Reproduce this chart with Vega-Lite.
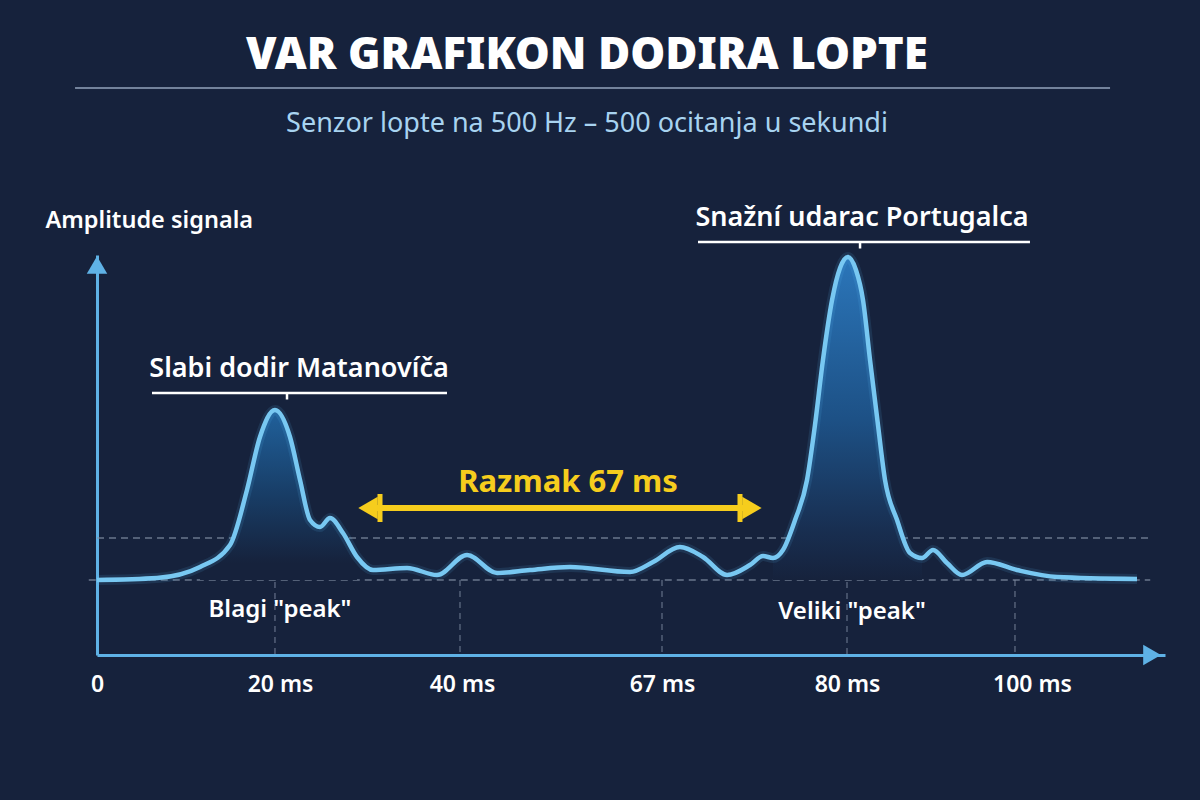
{
  "$schema": "https://vega.github.io/schema/vega-lite/v6.json",
  "autosize": {"type": "none"},
  "width": 1068,
  "height": 400,
  "padding": {"left": 97, "top": 255, "right": 35, "bottom": 145},
  "background": "#16223c",
  "config": {"view": {"stroke": null}},
  "title": {
    "text": "VAR GRAFIKON DODIRA LOPTE",
    "subtitle": "Senzor lopte na 500 Hz – 500 ocitanja u sekundi",
    "anchor": "middle",
    "dx": -44,
    "offset": -50,
    "font": "Noto Sans",
    "fontSize": 44,
    "fontWeight": 900,
    "color": "#ffffff",
    "subtitleFont": "Noto Sans",
    "subtitleFontSize": 27,
    "subtitleFontWeight": 400,
    "subtitleColor": "#a8d3f0",
    "subtitlePadding": 33
  },
  "resolve": {"scale": {"shape": "independent"}},
  "datasets": {
    "signal": [
      {"ms": 0, "amp": 0}, {"ms": 6.56, "amp": 0.4}, {"ms": 11.26, "amp": 2.6}, {"ms": 14.54, "amp": 7},
      {"ms": 16.39, "amp": 18}, {"ms": 17.81, "amp": 28.6}, {"ms": 19.45, "amp": 34}, {"ms": 21.1, "amp": 28.6},
      {"ms": 22.2, "amp": 20}, {"ms": 23.3, "amp": 12}, {"ms": 24.4, "amp": 10.6}, {"ms": 25.49, "amp": 12.4},
      {"ms": 26.92, "amp": 9.4}, {"ms": 28.46, "amp": 4.6}, {"ms": 30.22, "amp": 2}, {"ms": 33.96, "amp": 2.4},
      {"ms": 37.25, "amp": 1}, {"ms": 40.68, "amp": 5}, {"ms": 44.73, "amp": 1.4}, {"ms": 49.18, "amp": 2},
      {"ms": 54.58, "amp": 2.6}, {"ms": 62.68, "amp": 1.6}, {"ms": 65.79, "amp": 3.6}, {"ms": 68.26, "amp": 6.6},
      {"ms": 69.88, "amp": 4.6}, {"ms": 71.57, "amp": 1}, {"ms": 73.18, "amp": 3}, {"ms": 74.1, "amp": 4.8},
      {"ms": 74.8, "amp": 4.4}, {"ms": 75.5, "amp": 6}, {"ms": 76.35, "amp": 12}, {"ms": 77.19, "amp": 20},
      {"ms": 77.75, "amp": 31}, {"ms": 78.31, "amp": 44}, {"ms": 78.95, "amp": 56}, {"ms": 79.51, "amp": 62.4},
      {"ms": 80.11, "amp": 64.6}, {"ms": 80.97, "amp": 62}, {"ms": 81.73, "amp": 56}, {"ms": 82.49, "amp": 44},
      {"ms": 83.35, "amp": 31}, {"ms": 84.11, "amp": 20}, {"ms": 85.41, "amp": 12}, {"ms": 86.81, "amp": 5.4},
      {"ms": 88.11, "amp": 4.4}, {"ms": 89.3, "amp": 6}, {"ms": 90.81, "amp": 3.4}, {"ms": 92.43, "amp": 1},
      {"ms": 95.14, "amp": 3.6}, {"ms": 98.38, "amp": 2}, {"ms": 102.71, "amp": 0.6}, {"ms": 111.37, "amp": 0.2}
    ],
    "hdash": [
      {"ms": -0.9, "ms2": 112.8, "amp": 0},
      {"ms": 0, "ms2": 112.8, "amp": 8.4}
    ],
    "vdash": [
      {"ms": 19.45, "amp": 8.4, "amp2": -15},
      {"ms": 39.78, "amp": 0, "amp2": -15},
      {"ms": 67, "amp": 0, "amp2": -15},
      {"ms": 80, "amp": 8.4, "amp2": -15},
      {"ms": 98.16, "amp": 0, "amp2": -15}
    ],
    "callouts": [
      {"label": "Slabi dodir Matanovíča", "ms": 22.09, "amp": 42.2, "lx1": 6.01, "lx2": 38.35, "ly": 37.4, "tx": 20.77, "ty": 36.1},
      {"label": "Snažní udarac Portugalca", "ms": 81.62, "amp": 72.4, "lx1": 69.53, "lx2": 99.78, "ly": 67.6, "tx": 81.41, "ty": 66.3}
    ],
    "peaklabels": [
      {"label": "Blagi \"peak\"", "ms": 20, "amp": -6},
      {"label": "Veliki \"peak\"", "ms": 80.54, "amp": -6.4}
    ],
    "gap": [
      {"label": "Razmak 67 ms", "ms": 54.31, "amp": 19.4, "ax1": 29.67, "ax2": 73.32, "ay": 14.4}
    ],
    "gapheads": [
      {"end": "start", "ms": 29.67, "amp": 14.4},
      {"end": "end", "ms": 73.32, "amp": 14.4}
    ],
    "gapbars": [
      {"ms": 30.99, "amp": 17.2, "amp2": 11.6},
      {"ms": 72.48, "amp": 17.2, "amp2": 11.6}
    ],
    "axisheads": [
      {"axis": "x", "ms": 113, "amp": -15},
      {"axis": "y", "ms": 0, "amp": 63}
    ],
    "titleline": [
      {"ms": -2.4, "ms2": 108.45, "amp": 98.4}
    ]
  },
  "encoding": {
    "x": {
      "field": "ms",
      "type": "quantitative",
      "scale": {"domain": [0, 20, 40, 67, 80, 100, 114.4], "range": [0, 183, 365, 565, 750, 935, 1068], "nice": false, "zero": false},
      "axis": {
        "title": null,
        "values": [0, 20, 40, 67, 80, 100],
        "labelExpr": "datum.value == 0 ? '0' : datum.value + ' ms'",
        "grid": false,
        "ticks": false,
        "tickSize": 0,
        "domainColor": "#5fb2e6",
        "domainWidth": 3,
        "labelColor": "#ffffff",
        "labelFont": "Noto Sans",
        "labelFontSize": 23,
        "labelFontWeight": 600,
        "labelPadding": 18,
        "labelFlush": false,
        "labelOverlap": false
      }
    },
    "y": {
      "field": "amp",
      "type": "quantitative",
      "scale": {"domain": [-15, 65], "nice": false, "zero": false},
      "axis": {
        "title": "Amplitude signala",
        "titleAngle": 0,
        "titleAlign": "left",
        "titleBaseline": "middle",
        "titleX": -52,
        "titleY": -35,
        "titleColor": "#ffffff",
        "titleFont": "Noto Sans",
        "titleFontSize": 23.5,
        "titleFontWeight": 600,
        "labels": false,
        "ticks": false,
        "grid": false,
        "domainColor": "#5fb2e6",
        "domainWidth": 3
      }
    }
  },
  "layer": [
    {
      "data": {"name": "titleline"},
      "mark": {"type": "rule", "color": "#93a3bb", "opacity": 0.75, "strokeWidth": 2},
      "encoding": {"x2": {"field": "ms2"}}
    },
    {
      "data": {"name": "hdash"},
      "mark": {"type": "rule", "color": "#8592a8", "opacity": 0.75, "strokeWidth": 1.5, "strokeDash": [7, 5]},
      "encoding": {"x2": {"field": "ms2"}}
    },
    {
      "data": {"name": "vdash"},
      "mark": {"type": "rule", "color": "#8592a8", "opacity": 0.7, "strokeWidth": 1.2, "strokeDash": [6, 5]},
      "encoding": {"y2": {"field": "amp2"}}
    },
    {
      "data": {"name": "signal"},
      "transform": [{"filter": "datum.ms >= 11 && datum.ms <= 28.5"}],
      "mark": {
        "type": "area",
        "interpolate": "monotone",
        "fill": {"gradient": "linear", "x1": 0, "y1": 0, "x2": 0, "y2": 1,
          "stops": [{"offset": 0, "color": "#20619c"}, {"offset": 0.5, "color": "#183d66"}, {"offset": 0.9, "color": "#16223c"}, {"offset": 1, "color": "#16223c"}]}
      },
      "encoding": {"y2": {"datum": 0}}
    },
    {
      "data": {"name": "signal"},
      "transform": [{"filter": "datum.ms >= 74.7 && datum.ms <= 88.2"}],
      "mark": {
        "type": "area",
        "interpolate": "monotone",
        "fill": {"gradient": "linear", "x1": 0, "y1": 0, "x2": 0, "y2": 1,
          "stops": [{"offset": 0, "color": "#2b76ba"}, {"offset": 0.5, "color": "#1d5186"}, {"offset": 0.85, "color": "#182e50"}, {"offset": 1, "color": "#16223c"}]}
      },
      "encoding": {"y2": {"datum": 0}}
    },
    {
      "data": {"name": "signal"},
      "mark": {"type": "line", "interpolate": "monotone", "color": "#5cc0f5", "strokeWidth": 10, "opacity": 0.12},
      "encoding": {}
    },
    {
      "data": {"name": "signal"},
      "mark": {"type": "line", "interpolate": "monotone", "color": "#78c8f2", "strokeWidth": 4.5},
      "encoding": {}
    },
    {
      "data": {"name": "gap"},
      "mark": {"type": "rule", "color": "#f6cd1d", "strokeWidth": 6},
      "encoding": {"x": {"field": "ax1"}, "x2": {"field": "ax2"}, "y": {"field": "ay"}}
    },
    {
      "data": {"name": "gapbars"},
      "mark": {"type": "rule", "color": "#f6cd1d", "strokeWidth": 5},
      "encoding": {"y2": {"field": "amp2"}}
    },
    {
      "data": {"name": "gapheads"},
      "mark": {"type": "point", "filled": true, "opacity": 1, "color": "#f6cd1d", "size": 500},
      "encoding": {
        "shape": {"field": "end", "type": "nominal", "scale": {"domain": ["start", "end"], "range": ["triangle-left", "triangle-right"]}, "legend": null}
      }
    },
    {
      "data": {"name": "gap"},
      "mark": {"type": "text", "color": "#f6cd1d", "font": "Noto Sans", "fontSize": 31, "fontWeight": "bold", "baseline": "middle", "align": "center"},
      "encoding": {"text": {"field": "label"}}
    },
    {
      "data": {"name": "callouts"},
      "mark": {"type": "rule", "color": "#ffffff", "strokeWidth": 2.5},
      "encoding": {"x": {"field": "lx1"}, "x2": {"field": "lx2"}, "y": {"field": "ly"}}
    },
    {
      "data": {"name": "callouts"},
      "mark": {"type": "rule", "color": "#ffffff", "strokeWidth": 2.5},
      "encoding": {"x": {"field": "tx"}, "y": {"field": "ly"}, "y2": {"field": "ty"}}
    },
    {
      "data": {"name": "callouts"},
      "mark": {"type": "text", "color": "#ffffff", "font": "Noto Sans", "fontSize": 27, "fontWeight": 600, "baseline": "middle", "align": "center"},
      "encoding": {"text": {"field": "label"}}
    },
    {
      "data": {"name": "peaklabels"},
      "mark": {"type": "text", "color": "#ffffff", "font": "Noto Sans", "fontSize": 24, "fontWeight": 600, "baseline": "middle", "align": "center"},
      "encoding": {"text": {"field": "label"}}
    },
    {
      "data": {"name": "axisheads"},
      "mark": {"type": "point", "filled": true, "opacity": 1, "color": "#5fb2e6", "size": 420},
      "encoding": {
        "shape": {"field": "axis", "type": "nominal", "scale": {"domain": ["x", "y"], "range": ["triangle-right", "triangle-up"]}, "legend": null}
      }
    }
  ]
}
